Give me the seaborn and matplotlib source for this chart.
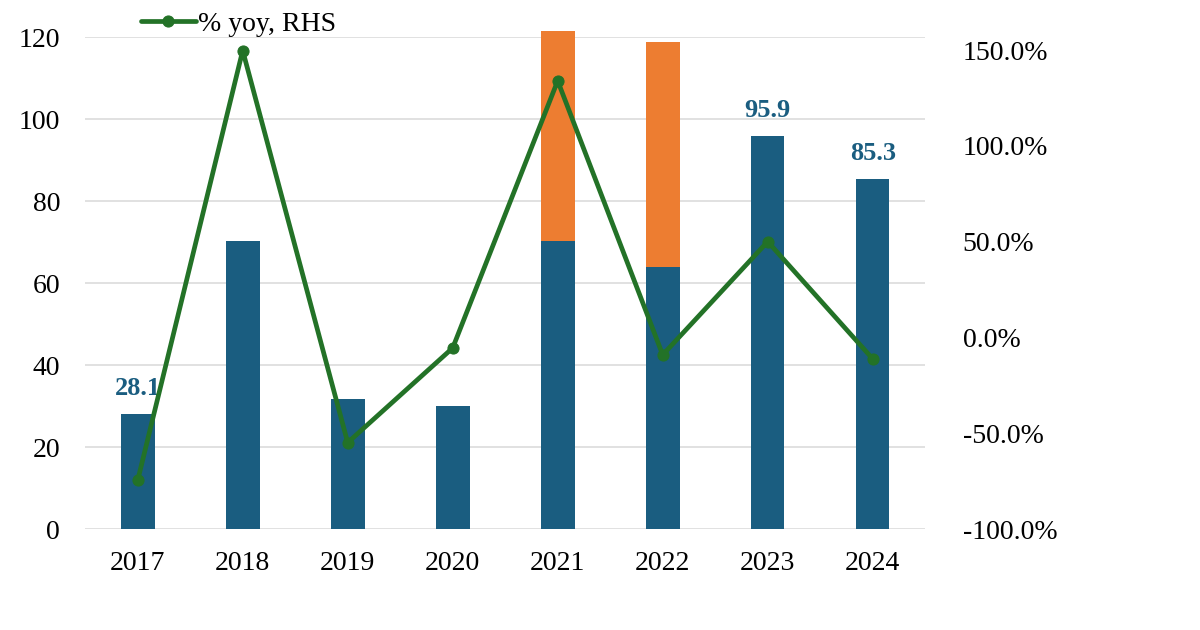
import numpy as np
import matplotlib
matplotlib.use("Agg")
import matplotlib.pyplot as plt
from matplotlib.ticker import FuncFormatter
import pandas as pd
import seaborn as sns

sns.set_theme(style="white")
plt.rcParams['font.family'] = ['Liberation Serif', 'DejaVu Serif']
plt.rcParams['text.color'] = 'black'
plt.rcParams['xtick.color'] = 'black'
plt.rcParams['ytick.color'] = 'black'

# data
years = ["2017", "2018", "2019", "2020", "2021", "2022", "2023", "2024"]
base = [28.1, 70.2, 31.7, 30.0, 70.2, 63.9, 95.9, 85.3]
extra = [0, 0, 0, 0, 51.3, 54.9, 0, 0]
yoy = [-74.5, 149.8, -54.8, -5.4, 134.0, -9.0, 50.1, -11.1]
labelled = {"2017": 28.1, "2023": 95.9, "2024": 85.3}

blue = "#1a5d80"
orange = "#ed7d31"
green = "#237227"

df = pd.DataFrame({"year": years, "base": base, "extra": extra, "yoy": yoy})
df["total"] = df["base"] + df["extra"]

fig = plt.figure(figsize=(12, 6.3), dpi=100)
ax = fig.add_axes([0.071, 0.160, 0.700, 0.781])

# stacked bars: total in orange underneath, base in blue on top
sns.barplot(data=df, x="year", y="total", color=orange, width=0.32,
            saturation=1, linewidth=0, ax=ax)
sns.barplot(data=df, x="year", y="base", color=blue, width=0.32,
            saturation=1, linewidth=0, ax=ax)
for p in ax.patches:
    p.set_clip_on(False)

ax.set_ylim(0, 120)
ax.set_xlim(-0.5, len(years) - 0.5)
ax.set_yticks(range(0, 121, 20))
ax.yaxis.grid(True, color="#dcdcdc", linewidth=1.2)
ax.set_axisbelow(True)
ax.set_xlabel("")
ax.set_ylabel("")
ax.tick_params(axis="y", length=0, pad=18, labelsize=20)
ax.tick_params(axis="x", length=0, pad=16, labelsize=20)
for s in ax.spines.values():
    s.set_visible(False)

for i, y in enumerate(years):
    if y in labelled:
        ax.text(i, df["total"][i] + 3.5, f"{labelled[y]:.1f}", ha="center",
                va="bottom", color=blue, fontsize=19, fontweight="bold")

ax2 = ax.twinx()
sns.lineplot(x=np.arange(len(years)), y=df["yoy"], color=green, linewidth=3.4,
             marker="o", markersize=8, markeredgecolor=green,
             label="% yoy, RHS", ax=ax2)
ax2.set_ylim(-100, 156.8)
ax2.set_yticks(range(-100, 151, 50))
ax2.yaxis.set_major_formatter(FuncFormatter(lambda v, p: f"{v:.1f}%"))
ax2.tick_params(axis="y", length=0, pad=27, labelsize=20)
ax2.set_ylabel("")
for s in ax2.spines.values():
    s.set_visible(False)

ax2.legend(loc="upper left", bbox_to_anchor=(0.108, 1.0), bbox_transform=fig.transFigure,
           frameon=False, fontsize=20, handlelength=2.0, handletextpad=0.05,
           borderaxespad=0)

fig.savefig("out.png", dpi=100)
